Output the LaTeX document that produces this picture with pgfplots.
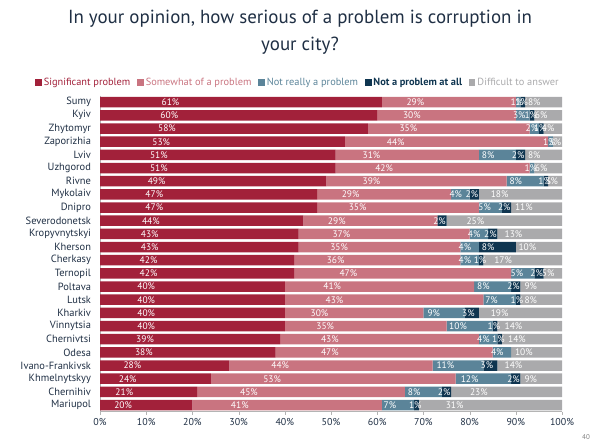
\documentclass[border=0pt]{standalone}
\usepackage{pgfplots}
\pgfplotsset{compat=1.18}
\usepackage{pgfplotstable}
\usepackage{fontspec}
\setmainfont{PT Sans}
\setsansfont{PT Sans}
\definecolor{cSig}{HTML}{A2213A}
\definecolor{cSom}{HTML}{C97480}
\definecolor{cNR}{HTML}{5B8499}
\definecolor{cNA}{HTML}{0F3550}
\definecolor{cDK}{HTML}{AAAAAC}
\definecolor{cTxt}{HTML}{1F2F44}
\definecolor{cAx}{HTML}{B4B4B4}

% dk = width of the grey bar (rest to 100%), dkl = printed value
\pgfplotstableread{
idx city sig som nr na dk dkl
0 Sumy 61 29 1 1 8 8
1 Kyiv 60 30 3 1 6 6
2 Zhytomyr 58 35 2 1 4 4
3 Zaporizhia 53 44 1 0 2 3
4 Lviv 51 31 8 2 8 8
5 Uzhgorod 51 42 1 0 6 6
6 Rivne 49 39 8 1 3 3
7 Mykolaiv 47 29 4 2 18 18
8 Dnipro 47 35 5 2 11 11
9 Severodonetsk 44 29 0 2 25 25
10 Kropyvnytskyi 43 37 4 2 14 13
11 Kherson 43 35 4 8 10 10
12 Cherkasy 42 36 4 1 17 17
13 Ternopil 42 47 5 2 4 5
14 Poltava 40 41 8 2 9 9
15 Lutsk 40 43 7 1 9 8
16 Kharkiv 40 30 9 3 18 19
17 Vinnytsia 40 35 10 1 14 14
18 Chernivtsi 39 43 4 1 13 14
19 Odesa 38 47 4 0 11 10
20 Ivano-Frankivsk 28 44 11 3 14 14
21 Khmelnytskyy 24 53 12 2 9 9
22 Chernihiv 21 45 8 2 24 23
23 Mariupol 20 41 7 1 31 31
}\data

\begin{document}
\begin{tikzpicture}
\path (0,0) rectangle (600bp,-447bp);
\node[text=cTxt, font=\fontsize{19}{22}\selectfont] at (300bp,-19bp) {In your opinion, how serious of a problem is corruption in};
\node[text=cTxt, font=\fontsize{19}{22}\selectfont] at (300bp,-46bp) {your city?};
\node[text=gray, font=\fontsize{7}{8}\selectfont] at (586bp,-437bp) {40};
\begin{axis}[
  at={(100bp,-411.6bp)}, anchor=south west,
  scale only axis, width=462bp, height=316bp,
  xbar stacked, bar width=10.5bp,
  xmin=0, xmax=100, ymin=-0.5, ymax=23.5, y dir=reverse,
  ytick={0,...,23},
  yticklabels from table={\data}{city},
  xtick={0,10,...,100},
  xticklabel={\pgfmathprintnumber{\tick}\%},
  /pgf/number format/assume math mode=true,
  axis x line*=bottom, axis y line*=left,
  axis line style={cAx},
  tick align=outside, major tick length=3bp,
  xtick style={cAx},
  ytick style={draw=none},
  yticklabel style={font=\fontsize{10.5}{12}\selectfont, text=cTxt, xshift=-2.5bp},
  xticklabel style={font=\fontsize{10}{11}\selectfont, text=cTxt},
  legend style={at={(0.4286,1.042)}, anchor=center, legend columns=-1, draw=none, fill=none,
    font=\fontsize{10.4}{12}\selectfont,
    /tikz/every even column/.append style={column sep=5bp}},
  legend image code/.code={\fill[#1] (0bp,-3.2bp) rectangle (6.4bp,3.2bp);},
  visualization depends on=rawx \as \rawx,
  nodes near coords={\ifdim\lab pt>0.5pt\relax\pgfmathprintnumber[fixed,precision=0]{\lab}\%\fi},
  every node near coord/.style={anchor=center, text=white, inner sep=0pt,
      font=\fontsize{9.5}{10}\selectfont, xshift={-1.155bp*\rawx}},
]
\addplot[fill=cSig, draw=none, visualization depends on=\thisrow{sig} \as \lab] table[x=sig, y=idx]{\data};
\addlegendentry{\textcolor{cSig}{Significant problem}}
\addplot[fill=cSom, draw=none, visualization depends on=\thisrow{som} \as \lab] table[x=som, y=idx]{\data};
\addlegendentry{\textcolor{cSom}{Somewhat of a problem}}
\addplot[fill=cNR, draw=none, visualization depends on=\thisrow{nr} \as \lab] table[x=nr, y=idx]{\data};
\addlegendentry{\textcolor{cNR}{Not really a problem}}
\addplot[fill=cNA, draw=none, visualization depends on=\thisrow{na} \as \lab] table[x=na, y=idx]{\data};
\addlegendentry{\textcolor{cNA}{\bfseries Not a problem at all}}
\addplot[fill=cDK, draw=none, visualization depends on=\thisrow{dkl} \as \lab] table[x=dk, y=idx]{\data};
\addlegendentry{\textcolor{cDK}{Difficult to answer}}
\end{axis}
\end{tikzpicture}
\end{document}
